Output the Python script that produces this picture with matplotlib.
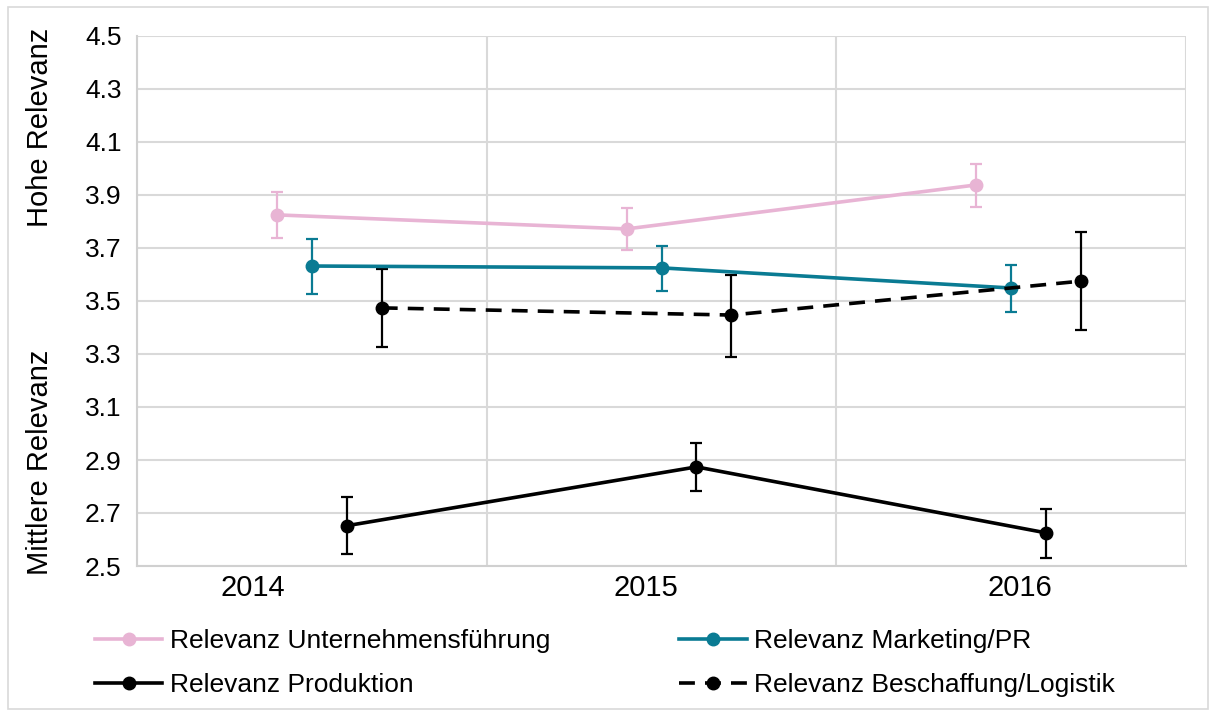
import numpy as np
import matplotlib.pyplot as plt
from matplotlib.patches import Rectangle

plt.rcParams['font.family'] = ['Liberation Sans', 'DejaVu Sans']

years = ['2014', '2015', '2016']

# means and error bar ends
fuehrung = [3.825, 3.772, 3.938]
fuehrung_lo = [3.738, 3.692, 3.855]
fuehrung_hi = [3.911, 3.851, 4.017]

marketing = [3.632, 3.625, 3.549]
marketing_lo = [3.526, 3.538, 3.458]
marketing_hi = [3.734, 3.708, 3.636]

produktion = [2.652, 2.874, 2.625]
produktion_lo = [2.547, 2.783, 2.530]
produktion_hi = [2.760, 2.964, 2.715]

beschaffung = [3.474, 3.447, 3.575]
beschaffung_lo = [3.326, 3.289, 3.391]
beschaffung_hi = [3.621, 3.598, 3.760]

series = [
    ('Relevanz Unternehmensführung', fuehrung, fuehrung_lo, fuehrung_hi, '#e8b4d4', '-', -0.1),
    ('Relevanz Marketing/PR', marketing, marketing_lo, marketing_hi, '#0a7b93', '-', 0.0),
    ('Relevanz Produktion', produktion, produktion_lo, produktion_hi, '#000000', '-', 0.1),
    ('Relevanz Beschaffung/Logistik', beschaffung, beschaffung_lo, beschaffung_hi, '#000000', '--', 0.2),
]

fig = plt.figure(figsize=(12.14, 7.17), dpi=100)
ax = fig.add_axes([137 / 1214, 1 - 566 / 717, (1186 - 137) / 1214, (566 - 36) / 717])

x = np.arange(len(years))
handles = {}
for name, vals, lo, hi, col, ls, off in series:
    vals = np.array(vals)
    yerr = [vals - np.array(lo), np.array(hi) - vals]
    ax.errorbar(x + off, vals, yerr=yerr, fmt='none', ecolor=col, elinewidth=1.6,
                capsize=4.5, capthick=1.6, zorder=3)
    dash = (0, (4.4, 2.8)) if ls == '--' else '-'
    h, = ax.plot(x + off, vals, color=col, lw=2.6, ls=dash, marker='o',
                 markersize=9, zorder=4)
    handles[name] = h

ax.set_xlim(-0.5, 2.5)
ax.set_ylim(2.5, 4.5)
yt = np.arange(2.5, 4.51, 0.2)
ax.set_yticks(yt)
ax.set_yticklabels(['%.1f' % v for v in yt], fontsize=19)
ax.set_xticks([-0.5, 0.5, 1.5, 2.5])
ax.set_xticklabels([])
ax.tick_params(axis='both', length=0, pad=11)
ax.grid(True, color='#d9d9d9', lw=1.5)
ax.set_axisbelow(True)
for s in ['top', 'right']:
    ax.spines[s].set_visible(False)
for s in ['left', 'bottom']:
    ax.spines[s].set_color('#d0d0d0')
    ax.spines[s].set_linewidth(1.5)

# year labels sit a bit off the category centres in the original
label_pos = [-0.17, 0.955, 2.025]
for xp, yr in zip(label_pos, years):
    ax.text(xp, -0.015, yr, transform=ax.get_xaxis_transform(), ha='center', va='top',
            fontsize=21)

fig.text(40 / 1214, 1 - 127 / 717, 'Hohe Relevanz', rotation=90, ha='center', va='center',
         fontsize=21)
fig.text(40 / 1214, 1 - 462 / 717, 'Mittlere Relevanz', rotation=90, ha='center', va='center',
         fontsize=21)

order = ['Relevanz Unternehmensführung', 'Relevanz Produktion',
         'Relevanz Marketing/PR', 'Relevanz Beschaffung/Logistik']
fig.legend([handles[n] for n in order], order, ncol=2, loc='upper left',
           bbox_to_anchor=(95 / 1214, 1 - 629 / 717), frameon=False, fontsize=19,
           handlelength=2.55, handletextpad=0.28, columnspacing=4.9, labelspacing=0.75,
           borderpad=0, borderaxespad=0)

fig.patches.append(Rectangle((8 / 1214, 8 / 717), 1200 / 1214, 702 / 717,
                             transform=fig.transFigure, fill=False, ec='#d9d9d9', lw=1.2))

fig.savefig('out.png', dpi=100)
